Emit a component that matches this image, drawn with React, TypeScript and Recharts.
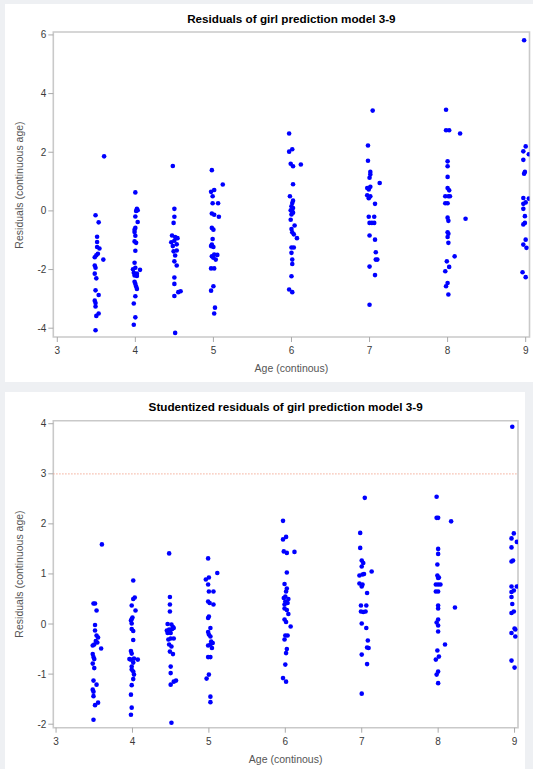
import React from "react";
import {
  ScatterChart,
  Scatter,
  XAxis,
  YAxis,
  ReferenceArea,
  ReferenceLine,
} from "recharts";

// [age, residual]
const resid35 = [
  [3.6, 1.86], [3.49, -0.15], [3.53, -0.39], [3.51, -0.88], [3.51, -1.06],
  [3.51, -1.23], [3.54, -1.28], [3.52, -1.46], [3.5, -1.51], [3.48, -1.58],
  [3.59, -1.66], [3.48, -1.86], [3.49, -1.94], [3.48, -2.14], [3.5, -2.3],
  [3.49, -2.71], [3.53, -2.87], [3.48, -3.06], [3.49, -3.14], [3.49, -3.26],
  [3.53, -3.5], [3.5, -3.58], [3.49, -4.07],
];
const resid4 = [
  [4.0, 0.63], [4.02, 0.07], [4.03, 0.02], [4.01, 0.0], [4.0, -0.19],
  [4.03, -0.38], [4.0, -0.58], [3.99, -0.64], [3.99, -0.72], [4.0, -0.85],
  [3.99, -1.04], [4.01, -1.09], [4.0, -1.36], [3.99, -1.77], [4.0, -1.94],
  [3.97, -1.99], [4.06, -2.01], [3.98, -2.11], [4.02, -2.14], [3.99, -2.2],
  [4.02, -2.22], [3.99, -2.42], [4.0, -2.49], [4.01, -2.58], [4.02, -2.66],
  [4.0, -2.91], [3.98, -3.16], [4.0, -3.63], [3.98, -3.88],
];
const resid45 = [
  [4.48, 1.53], [4.5, 0.07], [4.5, -0.2], [4.49, -0.41], [4.47, -0.84],
  [4.51, -0.89], [4.54, -0.93], [4.46, -1.07], [4.5, -1.02], [4.53, -1.14],
  [4.48, -1.2], [4.49, -1.38], [4.53, -1.35], [4.51, -1.52], [4.5, -1.72],
  [4.53, -1.86], [4.5, -2.27], [4.5, -2.49], [4.58, -2.74], [4.55, -2.77],
  [4.5, -2.9], [4.51, -4.16],
];
const resid5 = [
  [4.98, 1.39], [5.12, 0.9], [4.97, 0.65], [5.01, 0.71], [4.99, 0.5],
  [4.99, 0.26], [5.06, 0.26], [4.98, -0.09], [5.01, -0.13], [5.07, -0.2],
  [4.98, -0.58], [5.0, -0.64], [4.99, -0.96], [4.98, -1.15], [5.0, -1.23],
  [4.97, -1.2], [5.01, -1.49], [5.05, -1.5], [4.98, -1.55], [5.03, -1.66],
  [5.0, -1.6], [4.97, -1.96], [5.01, -1.96], [5.0, -2.57], [4.97, -2.72],
  [5.02, -3.3], [5.01, -3.5],
];
const resid6 = [
  [5.97, 2.64], [5.97, 2.02], [6.01, 2.1], [5.99, 1.61], [6.02, 1.52],
  [6.12, 1.58], [6.02, 0.91], [5.98, 0.5], [6.02, 0.35], [6.01, 0.27],
  [6.0, 0.16], [6.02, 0.1], [5.99, 0.02], [6.01, -0.02], [6.02, -0.06],
  [6.0, -0.12], [5.99, -0.3], [6.04, -0.5], [6.0, -0.62], [6.01, -0.73],
  [6.03, -0.8], [6.07, -0.93], [6.0, -1.25], [6.03, -1.25], [6.0, -1.43],
  [6.01, -1.66], [6.01, -1.81], [6.0, -2.23], [5.97, -2.68], [6.01, -2.77],
];
const resid7 = [
  [7.04, 3.42], [6.98, 2.23], [6.98, 1.71], [7.01, 1.33], [7.01, 1.24],
  [7.0, 1.13], [7.13, 0.95], [6.97, 0.78], [7.01, 0.82], [6.99, 0.73],
  [6.97, 0.53], [7.01, 0.5], [6.99, 0.43], [7.07, 0.24], [6.99, -0.2],
  [7.06, -0.2], [7.0, -0.41], [7.03, -0.41], [7.06, -0.41], [7.0, -0.84],
  [7.07, -0.98], [7.08, -1.41], [7.08, -1.66], [7.1, -1.66], [7.0, -1.9],
  [7.07, -2.19], [7.0, -3.2],
];
const resid8 = [
  [7.98, 3.45], [7.98, 2.75], [8.02, 2.75], [8.16, 2.64], [8.0, 1.69],
  [8.0, 1.52], [8.0, 1.16], [8.0, 0.78], [8.02, 0.7], [7.97, 0.5],
  [8.01, 0.5], [8.03, 0.5], [7.97, 0.26], [8.0, 0.26], [8.0, -0.23],
  [8.01, -0.34], [8.23, -0.27], [8.0, -0.73], [8.01, -0.78], [8.0, -0.89],
  [8.01, -1.09], [8.09, -1.55], [7.99, -1.72], [8.02, -1.91], [7.97, -2.06],
  [8.0, -2.46], [7.98, -2.57], [8.01, -2.85],
];
const resid9 = [
  [8.98, 5.82], [9.0, 2.2], [8.97, 2.03], [9.04, 1.93], [8.97, 1.74],
  [8.99, 1.33], [8.98, 1.27], [8.97, 0.44], [9.04, 0.42], [9.0, 0.29],
  [8.97, 0.24], [8.97, 0.07], [8.99, -0.18], [8.99, -0.41], [8.97, -0.46],
  [9.0, -0.98], [8.97, -1.15], [9.01, -1.26], [8.96, -2.09], [9.0, -2.26],
];

// [age, studentized residual]
const stud35 = [
  [3.6, 1.59], [3.49, 0.41], [3.51, 0.41], [3.53, 0.27], [3.51, -0.02],
  [3.51, -0.13], [3.53, -0.23], [3.55, -0.27], [3.52, -0.34], [3.54, -0.37],
  [3.48, -0.43], [3.5, -0.41], [3.59, -0.49], [3.48, -0.6], [3.49, -0.66],
  [3.5, -0.7], [3.48, -0.79], [3.5, -0.88], [3.49, -1.13], [3.53, -1.21],
  [3.48, -1.31], [3.49, -1.35], [3.49, -1.44], [3.55, -1.57], [3.51, -1.62],
  [3.49, -1.91],
];
const stud4 = [
  [4.01, 0.87], [4.03, 0.53], [4.01, 0.5], [3.99, 0.37], [4.04, 0.27],
  [4.0, 0.13], [3.99, 0.1], [3.98, 0.07], [3.99, 0.01], [3.99, -0.1],
  [4.01, -0.14], [4.01, -0.32], [3.98, -0.54], [3.99, -0.59], [3.96, -0.7],
  [3.98, -0.71], [4.02, -0.69], [4.07, -0.71], [4.01, -0.77], [3.99, -0.85],
  [3.99, -0.91], [4.01, -0.95], [4.02, -1.01], [4.01, -1.1], [3.99, -1.22],
  [3.98, -1.41], [3.99, -1.67], [3.98, -1.81],
];
const stud45 = [
  [4.48, 1.41], [4.49, 0.54], [4.49, 0.39], [4.49, 0.25], [4.46, 0.0],
  [4.51, -0.01], [4.53, -0.06], [4.45, -0.13], [4.48, -0.11], [4.52, -0.1],
  [4.54, -0.08], [4.46, -0.18], [4.5, -0.18], [4.47, -0.31], [4.5, -0.29],
  [4.54, -0.29], [4.48, -0.41], [4.51, -0.45], [4.49, -0.55], [4.53, -0.6],
  [4.5, -0.85], [4.5, -0.98], [4.57, -1.13], [4.54, -1.15], [4.5, -1.21],
  [4.51, -1.97],
];
const stud5 = [
  [4.99, 1.31], [5.11, 1.02], [4.96, 0.89], [5.0, 0.93], [4.99, 0.79],
  [5.0, 0.65], [5.06, 0.65], [4.99, 0.45], [5.01, 0.42], [5.06, 0.39],
  [5.0, 0.15], [4.99, 0.12], [5.02, -0.08], [4.99, -0.16], [5.0, -0.21],
  [5.02, -0.25], [5.03, -0.35], [5.05, -0.38], [5.02, -0.41], [4.99, -0.43],
  [5.04, -0.48], [4.99, -0.66], [5.02, -0.66], [5.0, -1.01], [4.97, -1.09],
  [5.02, -1.45], [5.02, -1.56],
];
const stud6 = [
  [5.97, 2.06], [5.97, 1.69], [6.01, 1.74], [5.98, 1.45], [6.02, 1.42],
  [6.12, 1.44], [6.02, 1.03], [5.99, 0.8], [6.02, 0.71], [6.01, 0.65],
  [6.0, 0.55], [5.98, 0.52], [6.04, 0.5], [6.0, 0.45], [6.03, 0.42],
  [5.99, 0.39], [5.99, 0.31], [6.02, 0.28], [6.04, 0.2], [5.99, 0.09],
  [6.01, 0.04], [6.07, -0.05], [6.0, -0.23], [6.03, -0.23], [5.99, -0.31],
  [6.02, -0.5], [6.01, -0.58], [6.0, -0.81], [5.97, -1.08], [6.01, -1.15],
];
const stud7 = [
  [7.04, 2.52], [6.98, 1.82], [6.98, 1.52], [7.0, 1.27], [7.02, 1.22],
  [7.0, 1.15], [7.13, 1.05], [6.97, 0.97], [7.01, 0.99], [7.03, 1.0],
  [6.97, 0.81], [7.01, 0.79], [7.0, 0.75], [7.07, 0.62], [6.99, 0.37],
  [7.06, 0.37], [6.99, 0.25], [7.02, 0.24], [7.05, 0.25], [7.0, 0.01],
  [7.06, -0.08], [7.08, -0.33], [7.09, -0.48], [7.07, -0.47], [7.0, -0.61],
  [7.07, -0.8], [7.0, -1.39],
];
const stud8 = [
  [7.98, 2.54], [7.98, 2.12], [8.0, 2.12], [8.17, 2.05], [8.0, 1.5],
  [8.0, 1.4], [7.99, 1.19], [7.99, 0.97], [8.0, 0.92], [8.01, 0.93],
  [7.97, 0.79], [8.0, 0.79], [8.03, 0.79], [7.97, 0.65], [8.0, 0.65],
  [8.0, 0.37], [8.0, 0.31], [8.22, 0.33], [8.0, 0.09], [7.98, 0.03],
  [8.0, -0.03], [8.0, -0.15], [8.09, -0.41], [7.99, -0.53], [8.01, -0.65],
  [7.97, -0.71], [8.0, -0.95], [7.98, -1.01], [8.0, -1.18],
];
const stud9 = [
  [8.97, 3.94], [8.99, 1.81], [8.96, 1.71], [9.03, 1.64], [8.96, 1.53],
  [8.98, 1.27], [8.96, 1.25], [8.96, 0.75], [9.03, 0.75], [8.99, 0.67],
  [8.96, 0.64], [8.96, 0.54], [8.97, 0.4], [8.99, 0.25], [8.96, 0.22],
  [9.0, -0.09], [9.01, -0.11], [8.96, -0.18], [9.01, -0.25], [8.96, -0.73],
  [9.0, -0.87],
];

const ageTicks = [3, 4, 5, 6, 7, 8, 9];
const residTicks = [-4, -2, 0, 2, 4, 6];
const studTicks = [-2, -1, 0, 1, 2, 3, 4];
const cutoff = 3;

const FONT = "'Liberation Sans', Arial, sans-serif";
const FRAME = "#c9c9c9";

const toPoints = (groups: number[][][]) =>
  groups.flat().map(([x, y]) => ({ x, y }));

const dot = (p: any) => <circle cx={p.cx} cy={p.cy} r={2.3} fill="#0000ff" />;

function Panel({
  top,
  height,
  margin,
  xDomain,
  yDomain,
  yTicks,
  data,
  title,
  titleY,
  xLabelY,
  refY,
}: {
  top: number;
  height: number;
  margin: { top: number; right: number; bottom: number; left: number };
  xDomain: [number, number];
  yDomain: [number, number];
  yTicks: number[];
  data: { x: number; y: number }[];
  title: string;
  titleY: number;
  xLabelY: number;
  refY?: number;
}) {
  const plotLeft = 53.3;
  const plotRight = 533 - margin.right;
  const plotTop = margin.top;
  const plotBottom = height - margin.bottom - 30;
  const plotW = plotRight - plotLeft;
  const plotH = plotBottom - plotTop;
  return (
    <div style={{ position: "absolute", left: 0, top, width: 533, height }}>
      <div
        style={{
          position: "absolute",
          left: plotLeft,
          width: plotW,
          top: titleY - 7,
          lineHeight: "14px",
          textAlign: "center",
          fontWeight: "bold",
          fontSize: 11.7,
          color: "#000",
        }}
      >
        {title}
      </div>
      <div
        style={{
          position: "absolute",
          left: 18 - plotH / 2,
          width: plotH,
          top: plotTop + plotH / 2 - 7,
          lineHeight: "14px",
          textAlign: "center",
          fontSize: 10.5,
          color: "#555",
          transform: "rotate(-90deg)",
        }}
      >
        Residuals (continuous age)
      </div>
      <div
        style={{
          position: "absolute",
          left: plotLeft,
          width: plotW,
          top: xLabelY - 7,
          lineHeight: "14px",
          textAlign: "center",
          fontSize: 10.5,
          color: "#555",
        }}
      >
        Age (continous)
      </div>
      <ScatterChart
        width={533}
        height={height}
        margin={margin}
        style={{ position: "absolute", left: 0, top: 0 }}
      >
        <XAxis
          type="number"
          dataKey="x"
          domain={xDomain}
          ticks={ageTicks}
          allowDataOverflow
          height={30}
          axisLine={false}
          tickLine={{ stroke: "#aaa" }}
          tickSize={5}
          tickMargin={5}
          tick={{ fontSize: 10, fill: "#3a3a3a" }}
        />
        <YAxis
          type="number"
          dataKey="y"
          domain={yDomain}
          ticks={yTicks}
          allowDataOverflow
          width={plotLeft}
          axisLine={false}
          tickLine={{ stroke: "#aaa" }}
          tickSize={5}
          tickMargin={2}
          tick={{ fontSize: 10, fill: "#3a3a3a" }}
        />
        <ReferenceArea
          x1={xDomain[0]}
          x2={xDomain[1]}
          y1={yDomain[0]}
          y2={yDomain[1]}
          fill="#fff"
          fillOpacity={0}
          stroke={FRAME}
          strokeWidth={1.6}
        />
        {refY !== undefined && (
          <ReferenceLine
            y={refY}
            stroke="#f4ad98"
            strokeWidth={1.2}
            strokeDasharray="1.2 1.8"
          />
        )}
        <Scatter data={data} shape={dot} isAnimationActive={false} />
      </ScatterChart>
    </div>
  );
}

export default function App() {
  return (
    <div
      style={{
        position: "absolute",
        left: 0,
        top: 0,
        width: 533,
        height: 769,
        background: "#eef0f3",
        fontFamily: FONT,
        overflow: "hidden",
      }}
    >
      <div style={{ position: "absolute", left: 5, top: 4, width: 528, height: 378, background: "#fff" }} />
      <div style={{ position: "absolute", left: 5, top: 392, width: 520, height: 377, background: "#fff" }} />
      <Panel
        top={0}
        height={385}
        margin={{ top: 32, right: 3.5, bottom: 18, left: 0 }}
        xDomain={[2.949, 9.049]}
        yDomain={[-4.3, 6.1]}
        yTicks={residTicks}
        data={toPoints([resid35, resid4, resid45, resid5, resid6, resid7, resid8, resid9])}
        title="Residuals of girl prediction model 3-9"
        titleY={18.5}
        xLabelY={368}
      />
      <Panel
        top={385}
        height={384}
        margin={{ top: 35.7, right: 15, bottom: 11.3, left: 0 }}
        xDomain={[2.964, 9.045]}
        yDomain={[-2.07, 4.06]}
        yTicks={studTicks}
        data={toPoints([stud35, stud4, stud45, stud5, stud6, stud7, stud8, stud9])}
        title="Studentized residuals of girl prediction model 3-9"
        titleY={21.7}
        xLabelY={374}
        refY={cutoff}
      />
    </div>
  );
}
